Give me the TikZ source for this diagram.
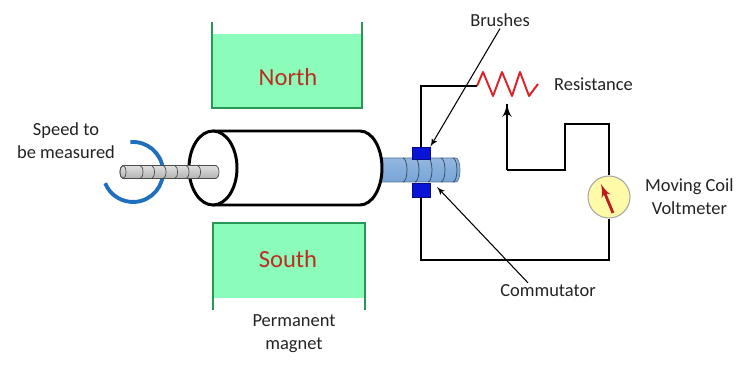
\documentclass[tikz,border=0pt]{standalone}
\usepackage{fontspec}
\setmainfont{Carlito}
\usepackage{xcolor}
\usetikzlibrary{shapes,arrows,positioning,calc}

\definecolor{magnetfill}{RGB}{140,252,186}
\definecolor{magnetedge}{RGB}{40,150,85}
\definecolor{poletext}{RGB}{190,45,35}
\definecolor{brushblue}{RGB}{10,20,215}
\definecolor{spinblue}{RGB}{30,112,190}
\definecolor{meterfill}{RGB}{255,250,168}
\definecolor{coilred}{RGB}{222,32,40}
\definecolor{textgray}{RGB}{35,35,35}
\definecolor{commlight}{RGB}{225,238,252}
\definecolor{commdark}{RGB}{120,165,215}

\begin{document}
\begin{tikzpicture}[
    x=0.02cm,
    y=-0.02cm,
    font=\fontsize{10.5}{13}\selectfont,
    caption/.style={
        text=textgray,
        align=center,
        inner sep=1pt
    },
    pole/.style={
        text=poletext,
        font=\fontsize{14}{16}\selectfont
    },
    magnet/.style={
        draw=magnetedge,
        line width=1.2pt
    },
    brush/.style={
        rectangle,
        draw=brushblue!60!black,
        fill=brushblue,
        minimum width=3.6mm,
        inner sep=0pt
    },
    meter/.style={
        circle,
        draw=gray!70,
        fill=meterfill,
        line width=0.6pt,
        minimum size=8.4mm,
        inner sep=0pt
    },
    wire/.style={
        draw,
        line width=1.5pt
    },
    pointer/.style={
        draw,
        -latex',
        line width=0.6pt
    },
    shaft/.style={
        draw=gray!60!black,
        line width=0.4pt,
        top color=gray!25,
        middle color=white,
        bottom color=gray!60
    },
    commshaft/.style={
        draw=commdark!70!black,
        line width=0.4pt,
        top color=commdark!80,
        middle color=commlight,
        bottom color=commdark
    }
]
\useasboundingbox (0,0) rectangle (737,381);

% Magnets
\fill[magnetfill] (212,34) rectangle (362,108);
\draw[magnet] (212,22) -- (212,108) -- (362,108) -- (362,22);
\fill[magnetfill] (213,223) rectangle (365,298);
\draw[magnet] (213,310) -- (213,223) -- (365,223) -- (365,310);

% Commutator shaft
\path[commshaft] (372,158) -- (456,158)
    arc[start angle=-90, end angle=90, x radius=4, y radius=12]
    -- (372,182) -- cycle;
\foreach \x in {403,415,428,441,453}
    \draw[commdark!40!black, line width=0.4pt] (\x,158)
        arc[start angle=-90, end angle=90, x radius=4, y radius=12];

% Armature
\draw[line width=1.7pt, fill=white] (213,131) -- (360,131)
    arc[start angle=-90, end angle=90, x radius=22, y radius=37]
    -- (213,205);
\draw[line width=1.7pt, fill=white] (213,168) ellipse[x radius=24, y radius=37];

% Rotation arrow and input shaft
\coordinate (spin) at (133,172);
\draw[spinblue, line width=2.2pt] (spin) ++(-95:30)
    arc[start angle=-95, end angle=158, radius=30];
\path[shaft] (123,165.5) -- (216,165.5)
    arc[start angle=-90, end angle=90, x radius=3, y radius=6.5]
    -- (123,178.5)
    arc[start angle=90, end angle=270, x radius=3, y radius=6.5] -- cycle;
\draw[gray!60!black, line width=0.4pt] (123,172) ellipse[x radius=3, y radius=6.5];
\foreach \x in {140,151.5,163,174.5,186,197.5}
    \draw[gray!60!black, line width=0.4pt] (\x,165.5)
        arc[start angle=-90, end angle=90, x radius=3, y radius=6.5];

% Nodes
\node[pole] (north) at (288,77) {North};
\node[pole] (south) at (288,259) {South};
\node[caption] (magtxt) at (294,334) {Permanent\\magnet};
\node[caption] (speed) at (66,141) {Speed to\\be measured};
\node[brush, minimum height=2.4mm] (brushtop) at (421,153) {};
\node[brush, minimum height=2.8mm] (brushlow) at (421,190) {};
\node[caption] (brushtxt) at (500,20) {Brushes};
\node[caption] (comtxt) at (548,291) {Commutator};
\node[meter] (meter) at (609,197) {};
\node[caption, right=0.25cm of meter] (metertxt) {Moving Coil\\Voltmeter};

\coordinate (resin) at (477,86);
\coordinate (resout) at (538,84);
\coordinate (tap) at (507,170);
\coordinate (wiper) at (507,104);
\coordinate (bend) at (565,124);
\coordinate (corner) at (421,260);
\coordinate (commseg) at (437,187);
\node[caption, anchor=west] (restxt) at (552,84) {Resistance};

% Resistor
\draw[coilred, line width=1.1pt, line join=round] (resin) -- (483,72) -- (493,96)
    -- (502,72) -- (512,96) -- (520,72) -- (529,96) -- (resout);

% Edges
\path[wire] (brushtop.north) |- (resin);
\path[wire] (tap) -- (wiper);
\draw[-latex', line width=1.5pt] ($(wiper)+(0,10)$) -- (wiper);
\path[wire] (tap) -| (bend) -| (meter.north);
\path[wire] (brushlow.south) -- (corner) -| (meter.south);
\draw[coilred!85!black, line width=1.6pt, -latex'] (613,213) -- (601,184);
\path[pointer] (brushtxt.south) -- (brushtop.north east);
\path[pointer] ($(comtxt.north)+(-20,0)$) -- (commseg);

\end{tikzpicture}
\end{document}
